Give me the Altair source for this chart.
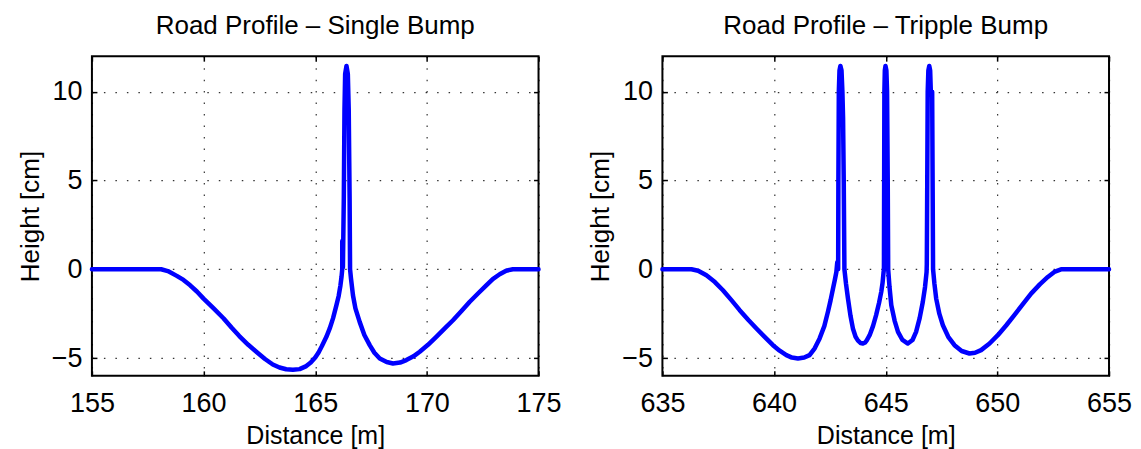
import altair as alt
import pandas as pd

# ---- data: (distance [m], height [cm]) ----
single_profile = [
    (155.0, 0.0), (158.1, 0.0), (158.4, -0.1), (158.8, -0.37), (159.1, -0.6), (159.4, -0.9),
    (159.7, -1.25), (160.0, -1.65), (160.45, -2.2), (160.9, -2.77), (161.25, -3.28),
    (161.6, -3.76), (162.0, -4.25), (162.4, -4.68), (162.75, -5.05), (163.1, -5.36),
    (163.4, -5.53), (163.7, -5.63), (164.0, -5.66), (164.3, -5.62), (164.6, -5.45),
    (164.8, -5.25), (165.0, -4.97), (165.15, -4.68), (165.3, -4.32), (165.5, -3.8),
    (165.65, -3.33), (165.8, -2.75), (165.95, -2.02), (166.05, -1.5), (166.13, -0.9),
    (166.18, -0.4), (166.21, 0.0), (166.21, 1.6), (166.24, 0.1), (166.28, 4.0), (166.31, 9.0),
    (166.34, 11.0), (166.40, 11.45), (166.46, 11.0), (166.50, 9.0), (166.54, 4.0),
    (166.56, 0.0), (166.6, -0.5), (166.69, -1.46), (166.8, -2.2), (166.99, -2.96),
    (167.2, -3.7), (167.44, -4.27), (167.65, -4.7), (167.89, -5.02), (168.2, -5.22),
    (168.48, -5.3), (168.8, -5.25), (169.08, -5.11), (169.4, -4.9), (169.68, -4.64),
    (170.05, -4.25), (170.42, -3.8), (170.8, -3.33), (171.17, -2.87), (171.55, -2.35),
    (171.91, -1.84), (172.3, -1.35), (172.66, -0.9), (172.95, -0.55), (173.26, -0.28),
    (173.55, -0.08), (173.85, 0.0), (175.0, 0.0),
]

triple_profile = [
    (635.0, 0.0), (636.3, 0.0), (636.6, -0.08), (636.97, -0.34), (637.35, -0.72),
    (637.71, -1.18), (638.1, -1.75), (638.46, -2.3), (638.85, -2.85), (639.21, -3.33),
    (639.6, -3.83), (639.95, -4.27), (640.25, -4.58), (640.55, -4.83), (640.8, -4.97),
    (641.07, -5.02), (641.35, -4.97), (641.59, -4.83), (641.82, -4.45), (642.04, -3.89),
    (642.25, -3.2), (642.41, -2.4), (642.53, -1.75), (642.64, -1.08), (642.72, -0.6),
    (642.79, -0.15), (642.83, 0.4), (642.87, 0.0), (642.88, 5.0), (642.90, 10.0),
    (642.93, 11.2), (642.97, 11.45), (643.02, 11.2), (643.06, 10.0), (643.09, 8.5),
    (643.12, 5.0), (643.15, 0.0), (643.22, -0.8), (643.31, -1.65), (643.42, -2.6),
    (643.53, -3.33), (643.65, -3.8), (643.75, -4.0), (643.87, -4.15), (643.98, -4.18),
    (644.08, -4.12), (644.15, -4.0), (644.28, -3.71), (644.43, -3.2), (644.57, -2.58),
    (644.70, -1.9), (644.80, -1.27), (644.86, -0.75), (644.90, -0.2), (644.92, 0.0),
    (644.93, 5.0), (644.94, 10.0), (644.96, 11.2), (644.99, 11.45), (645.03, 11.2),
    (645.06, 10.0), (645.09, 5.0), (645.11, 0.0), (645.17, -1.0), (645.25, -2.02),
    (645.40, -2.9), (645.55, -3.52), (645.75, -3.98), (645.99, -4.18), (646.2, -3.98),
    (646.36, -3.52), (646.52, -2.75), (646.66, -1.84), (646.76, -1.0), (646.83, -0.15),
    (646.84, 0.3), (646.86, 5.0), (646.88, 10.0), (646.91, 11.2), (646.95, 11.45),
    (646.99, 11.2), (647.02, 10.0), (647.08, 10.0), (647.10, 5.0), (647.12, 0.0),
    (647.18, -0.8), (647.26, -1.65), (647.40, -2.5), (647.56, -3.15), (647.8, -3.8),
    (648.08, -4.27), (648.4, -4.6), (648.75, -4.74), (649.0, -4.7), (649.27, -4.55),
    (649.65, -4.18), (650.02, -3.71), (650.4, -3.15), (650.76, -2.58), (651.15, -1.95),
    (651.51, -1.37), (651.9, -0.85), (652.26, -0.43), (652.55, -0.15), (652.85, 0.0),
    (655.0, 0.0),
]

x_ticks_single = [155, 160, 165, 170, 175]
x_ticks_triple = [635, 640, 645, 650, 655]
y_ticks = [-5, 0, 5, 10]
y_domain = [-6, 12]

titles = ["Road Profile \u2013 Single Bump", "Road Profile \u2013 Tripple Bump"]
FONT = "Liberation Sans"


def panel(profile, xticks, title):
    df = pd.DataFrame({"d": [p[0] for p in profile], "h": [p[1] for p in profile],
                       "i": list(range(len(profile)))})
    xdom = [xticks[0], xticks[-1]]
    xs_scale = alt.Scale(domain=xdom, nice=False, zero=False)
    ys_scale = alt.Scale(domain=y_domain, nice=False, zero=False)
    base = alt.Chart(df)
    frame = base.mark_line(opacity=0).encode(
        x=alt.X("d:Q", scale=xs_scale,
                axis=alt.Axis(orient="top", values=xticks, labels=False, title=None,
                              offset=-5, tickSize=5, domain=False, grid=False)),
        y=alt.Y("h:Q", scale=ys_scale,
                axis=alt.Axis(orient="right", values=y_ticks, labels=False, title=None,
                              offset=-5, tickSize=5, domain=False, grid=False)),
        order="i:Q",
    )
    line = base.mark_line(color="#0000FF", strokeWidth=4.5, strokeJoin="round",
                          strokeCap="round").encode(
        x=alt.X("d:Q", scale=xs_scale,
                axis=alt.Axis(orient="bottom", values=xticks, title="Distance [m]", format="d",
                              offset=-5, tickSize=5, labelPadding=15, titlePadding=7,
                              titleFontSize=25, labelFlush=False, domain=False, grid=True)),
        y=alt.Y("h:Q", scale=ys_scale,
                axis=alt.Axis(orient="left", values=y_ticks, title="Height [cm]", format="d",
                              offset=-5, tickSize=5, labelPadding=10, titlePadding=8,
                              titleFontSize=26, labelFlush=False, domain=False, grid=True)),
        order="i:Q",
    )
    return alt.layer(frame, line).resolve_axis(x="independent", y="independent").properties(
        width=447, height=320,
        title=alt.TitleParams(title, fontSize=26, font=FONT, fontWeight="normal",
                              color="black", anchor="middle", offset=16),
    )


left = panel(single_profile, x_ticks_single, titles[0])
right = panel(triple_profile, x_ticks_triple, titles[1])

chart = alt.hconcat(left, right, spacing=124, bounds="flush").properties(
    padding={"left": 8, "top": 4, "right": 0, "bottom": 0}
).configure(
    background="white"
).configure_view(
    stroke="black", strokeWidth=2
).configure_axis(
    labelFont=FONT, labelFontSize=27, labelColor="black",
    titleFont=FONT, titleFontWeight="normal", titleColor="black",
    tickColor="black", tickWidth=1.5,
    gridColor="black", gridDash=[1.5, 10], gridOpacity=0.8, gridWidth=1.2,
)

chart.save("out.html", embed_options={"renderer": "svg", "actions": False})
